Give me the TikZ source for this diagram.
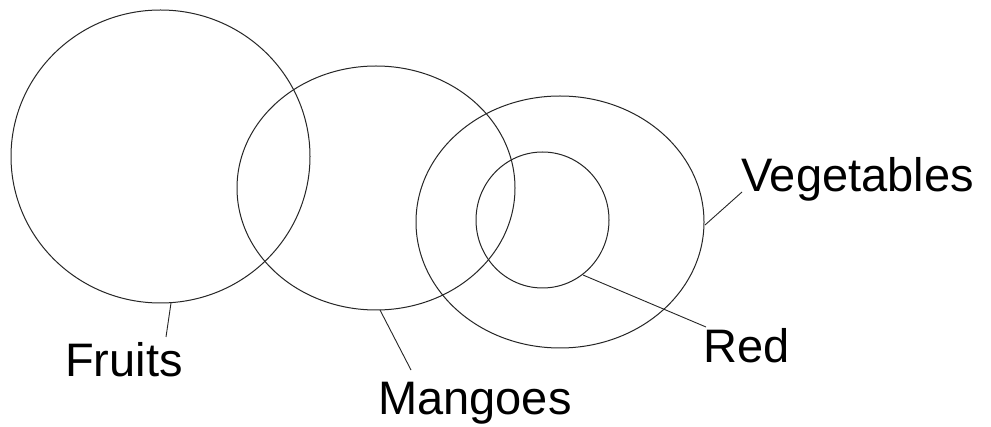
\documentclass[tikz,border=0pt]{standalone}
\usepackage{fontspec}
\setmainfont{Liberation Sans}
\begin{document}
\begin{tikzpicture}[x=1pt,y=-1pt,
  setline/.style={draw=black!85,line width=1pt},
  leader/.style={draw=black!85,line width=0.9pt},
  lbl/.style={anchor=base west,inner sep=0pt,font=\fontsize{47}{51}\selectfont}]
\useasboundingbox[fill=white] (0,0) rectangle (991,427);
% sets
\draw[setline] (160.5,156.5) ellipse [x radius=149.5,y radius=146.5];
\draw[setline] (376,188) ellipse [x radius=139,y radius=122];
\draw[setline] (560,222) ellipse [x radius=144,y radius=126];
\draw[setline] (542.5,220) ellipse [x radius=66.5,y radius=68];
% labels
\node[lbl] (fruits) at (65,377) {Fruits};
\node[lbl] (mangoes) at (378,415) {Mangoes};
\node[lbl] (red) at (703,363) {Red};
\node[lbl] (veg) at (741,192) {Vegetables};
% leader endpoints
\coordinate (fA) at (171,303); \coordinate (fB) at (166,337);
\coordinate (mA) at (380,310); \coordinate (mB) at (411,370);
\coordinate (rA) at (583,275); \coordinate (rB) at (706,327);
\coordinate (vA) at (705,225); \coordinate (vB) at (742,192);
\draw[leader] (fA) -- (fB);
\draw[leader] (mA) -- (mB);
\draw[leader] (rA) -- (rB);
\draw[leader] (vA) -- (vB);
\end{tikzpicture}
\end{document}
